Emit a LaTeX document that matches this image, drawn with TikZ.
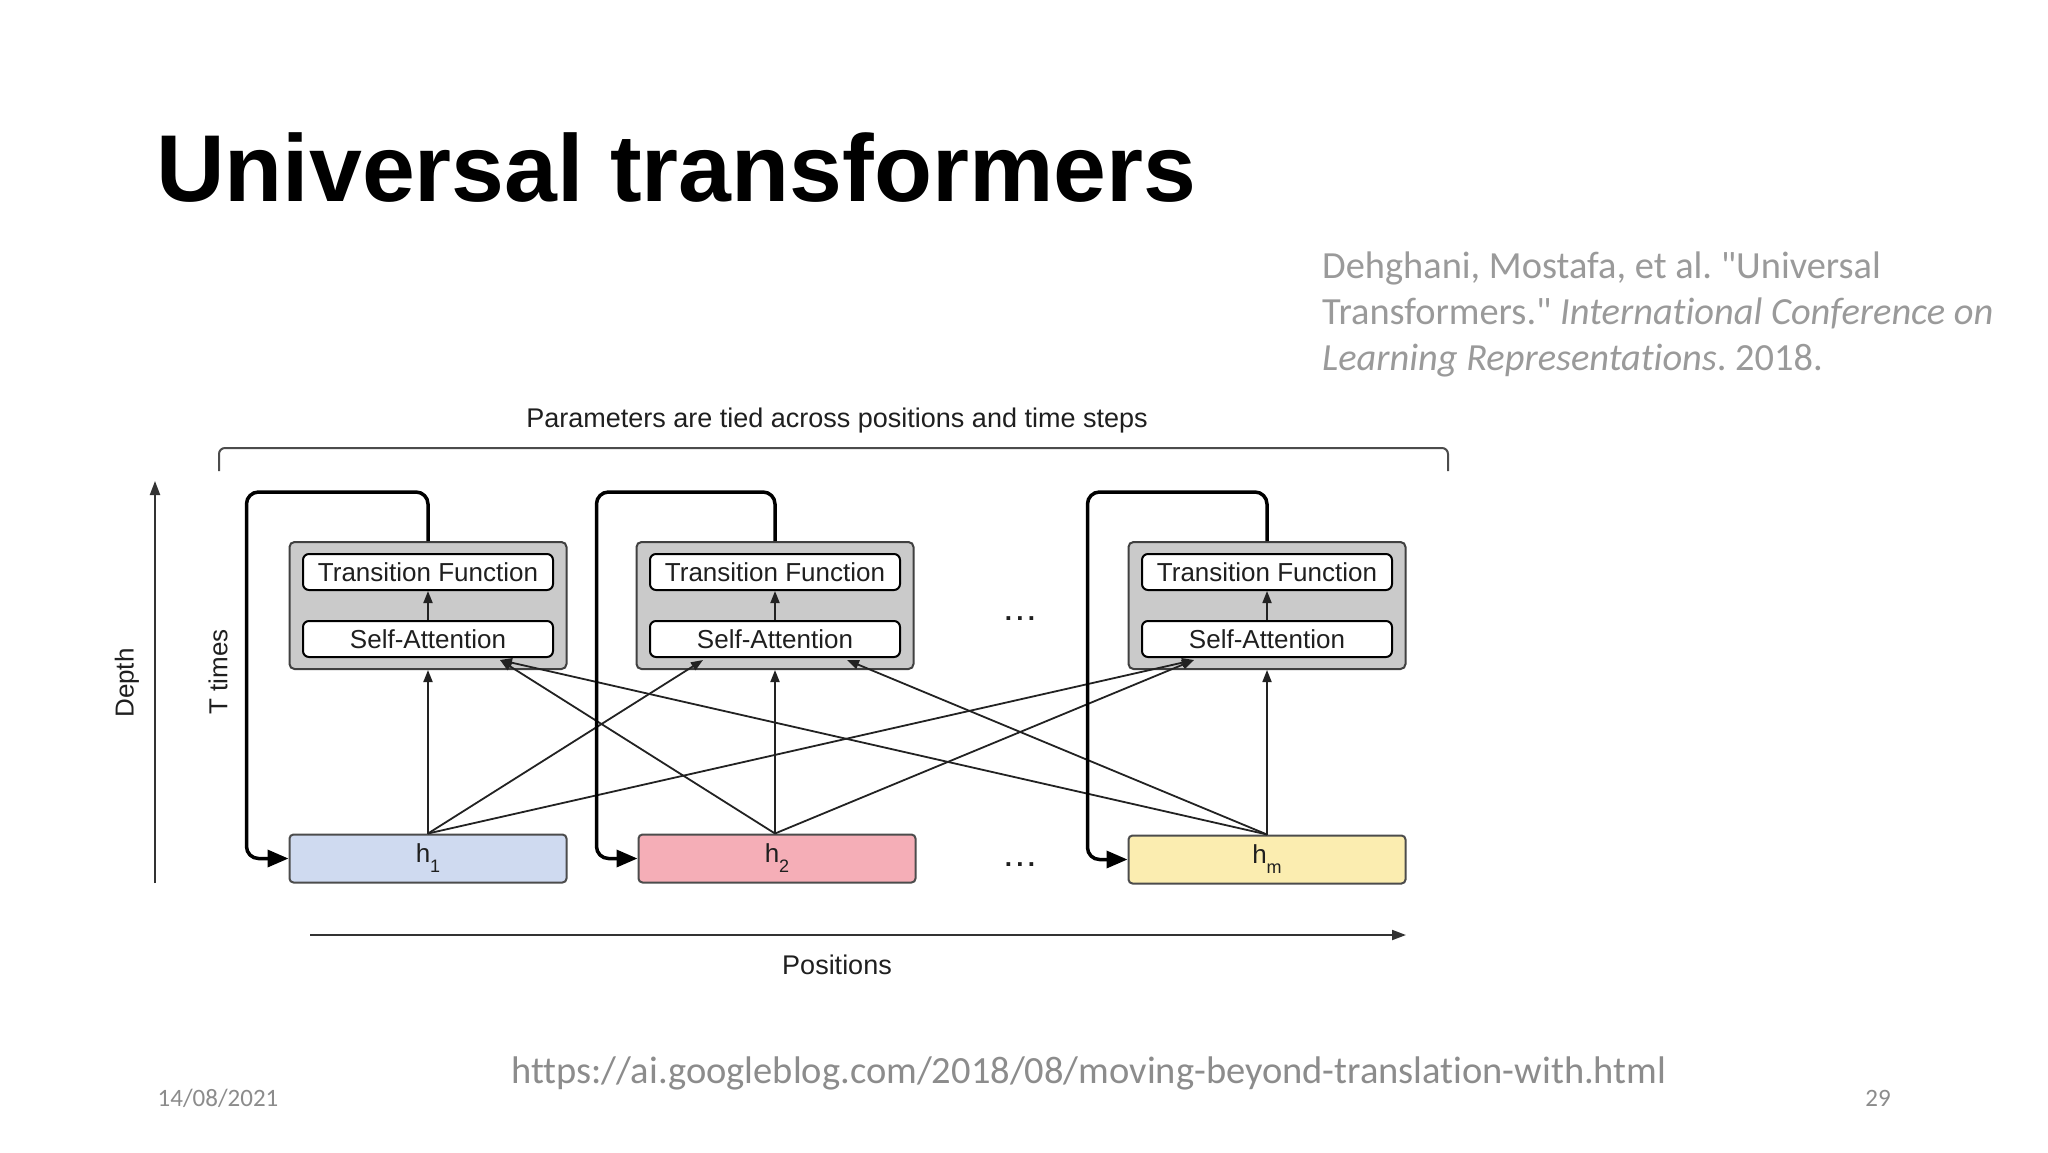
\documentclass[tikz,border=0pt]{standalone}
\usepackage{fontspec}
\setmainfont{Liberation Sans}
\newfontfamily\titlefont{Liberation Sans}
\newfontfamily\califont[Ligatures=NoCommon]{Carlito}
\usetikzlibrary{arrows.meta,calc}
\definecolor{hblue}{HTML}{CFDAF0}
\definecolor{hpink}{HTML}{F5AEB7}
\definecolor{hyellow}{HTML}{FBEDB0}
\definecolor{gfill}{HTML}{CACACA}
\definecolor{citegray}{HTML}{9A9A9A}
\definecolor{footgray}{HTML}{8C8C8C}
\definecolor{linedark}{HTML}{222222}
\frenchspacing
\begin{document}
\begin{tikzpicture}[x=1pt,y=-1pt,
  lbl/.style={font=\fontsize{26}{30}\selectfont, text=black!88},
  gbox/.style={draw=black!75, line width=2pt, fill=gfill, rounded corners=5pt, minimum width=277pt, minimum height=127pt, inner sep=0pt},
  ibox/.style={draw=black, line width=2pt, fill=white, rounded corners=6pt, minimum width=250pt, minimum height=36pt, inner sep=0pt, lbl},
  hbox/.style={draw=black!70, line width=2pt, rounded corners=4pt, minimum width=277pt, minimum height=48pt, inner sep=0pt, lbl},
  thinarrow/.style={draw=linedark, line width=1.8pt, -{Triangle[length=12pt,width=9pt]}},
  looparrow/.style={draw=black, line width=3.5pt, rounded corners=12pt, -{Triangle[length=21pt,width=17pt]}},
  cite/.style={font=\califont\fontsize{38.4}{46}\selectfont, text=citegray, anchor=base west, inner sep=0pt},
  foot/.style={font=\califont\fontsize{25}{30}\selectfont, text=footgray, anchor=base, inner sep=0pt},
]
\useasboundingbox[fill=white] (0,0) rectangle (2048,1152);

% title
\node[anchor=base west, inner sep=0pt, font=\titlefont\bfseries\fontsize{95}{105}\selectfont] (title) at (156,201) {Universal transformers};

% citation
\node[cite] (c1) at (1322,278) {Dehghani, Mostafa, et al. "Universal};
\node[cite] (c2) at (1322,324) {Transformers." \textit{International Conference on}};
\node[cite] (c3) at (1322,370) {\textit{Learning Representations}. 2018.};

% bracket
\node[lbl, font=\fontsize{27}{31}\selectfont] (param) at (837,421) {Parameters are tied across positions and time steps};
\coordinate (b1) at (219,471);
\coordinate (b2) at (219,448);
\coordinate (b3) at (1448,448);
\coordinate (b4) at (1448,471);
\draw[draw=black!70, line width=2pt, rounded corners=6pt] (b1) -- (b2) -- (b3) -- (b4);

% depth / positions axes
\coordinate (d0) at (155,883);
\coordinate (d1) at (155,481);
\draw[draw=black!80, line width=2pt, -{Triangle[length=14pt,width=10pt]}] (d0) -- (d1);
\node[lbl, rotate=90] (depth) at (127,683) {Depth};
\node[lbl, rotate=90] (ttimes) at (218,672) {T times};
\coordinate (p0) at (310,935);
\coordinate (p1) at (1406,935);
\draw[draw=black!80, line width=2pt, -{Triangle[length=14pt,width=10pt]}] (p0) -- (p1);
\node[lbl, font=\fontsize{27}{31}\selectfont] (positions) at (837,965) {Positions};

% gray blocks
\foreach \i/\x in {1/428, 2/775, 3/1267} {
  \node[gbox] (g\i) at (\x,605.5) {};
  \node[ibox] (t\i) at (\x,572) {Transition Function};
  \node[ibox] (s\i) at (\x,639) {Self-Attention};
  \draw[thinarrow] (s\i.north) -- (t\i.south);
}

% hidden states
\node[hbox, fill=hblue] (h1) at (428,858.5) {h\raisebox{-0.38em}{\fontsize{18}{18}\selectfont 1}};
\node[hbox, fill=hpink] (h2) at (777,858.5) {h\raisebox{-0.38em}{\fontsize{18}{18}\selectfont 2}};
\node[hbox, fill=hyellow] (h3) at (1267,859.5) {h\raisebox{-0.38em}{\fontsize{18}{18}\selectfont m}};

% dots
\node[lbl, font=\bfseries\fontsize{26}{30}\selectfont] (dots1) at (1020,619) {.\,.\,.};
\node[lbl, font=\bfseries\fontsize{26}{30}\selectfont] (dots2) at (1020,865) {.\,.\,.};

% vertical arrows
\draw[thinarrow] (h1.north) -- (g1.south);
\draw[thinarrow] ([xshift=-2pt]h2.north) -- (g2.south);
\draw[thinarrow] (h3.north) -- (g3.south);

% cross arrows
\draw[thinarrow] (h1.north) -- ($(s2.south)+(-72,2)$);
\draw[thinarrow] (h1.north) -- ($(s3.south)+(-73,2)$);
\draw[thinarrow] ([xshift=-2pt]h2.north) -- ($(s1.south)+(72,2)$);
\draw[thinarrow] ([xshift=-2pt]h2.north) -- ($(s3.south)+(-73,2)$);
\draw[thinarrow] (h3.north) -- ($(s1.south)+(72,2)$);
\draw[thinarrow] (h3.north) -- ($(s2.south)+(72,2)$);

% recurrence loops
\draw[looparrow] (g1.north) -- ++(0,-49) -| ([xshift=-42pt]h1.west) -- (h1.west);
\draw[looparrow] (g2.north) -- ++(0,-49) -| ([xshift=-41pt]h2.west) -- (h2.west);
\draw[looparrow] (g3.north) -- ++(0,-49) -| ([xshift=-40pt]h3.west) -- (h3.west);

% footer
\node[foot, font=\califont\fontsize{38.5}{42}\selectfont] (url) at (1089,1083) {https://ai.googleblog.com/2018/08/moving-beyond-translation-with.html};
\node[foot] (date) at (218,1106) {14/08/2021};
\node[foot] (page) at (1878,1106) {29};
\end{tikzpicture}
\end{document}
